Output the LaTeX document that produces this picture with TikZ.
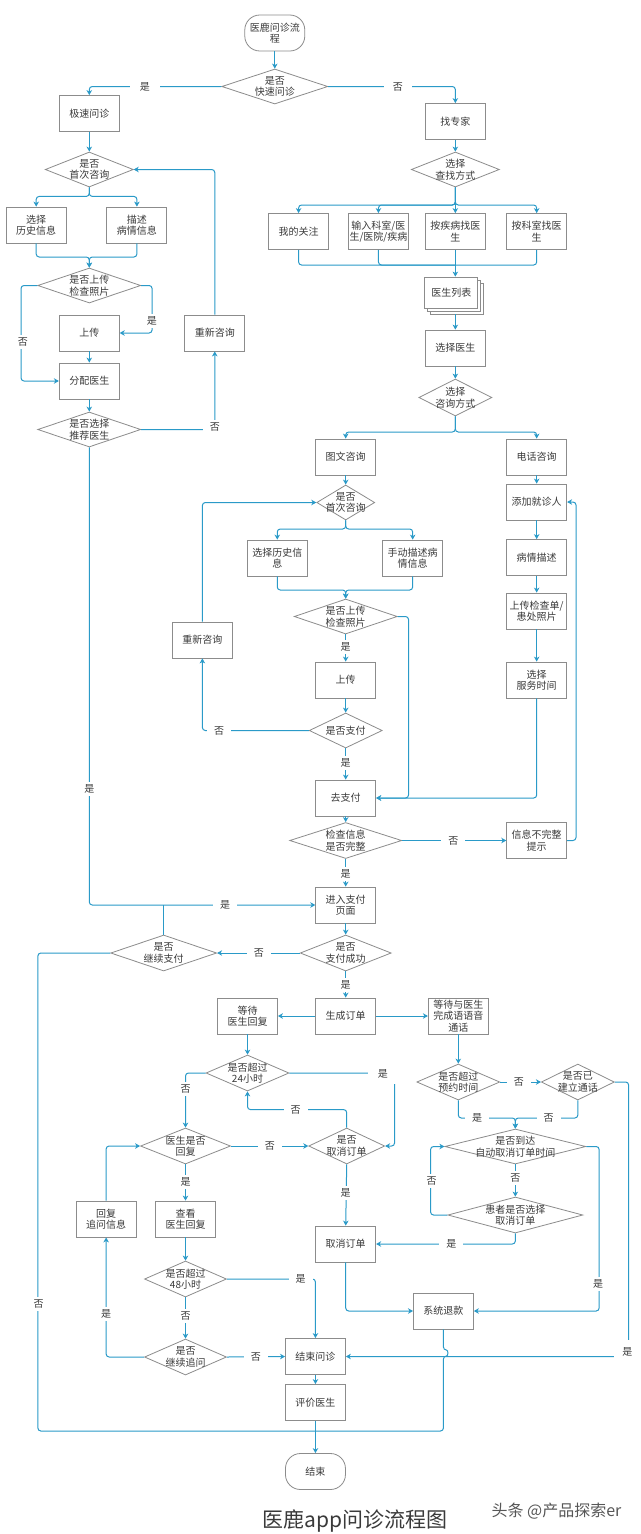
\documentclass[tikz,border=0pt]{standalone}
\usepackage{fontspec}
\setmainfont{Noto Sans CJK SC}
\usetikzlibrary{shapes.geometric,arrows.meta,calc}
\definecolor{ln}{HTML}{2A9AC8}
\definecolor{bd}{HTML}{8C8C8C}
\definecolor{tx}{HTML}{3A3A3A}
\newcommand\nfs{\fontsize{10}{11.5}\selectfont}
\newcommand\dianode[6]{%
  \node[dia, minimum width=#4pt, minimum height=#5pt] (#1) at (#2,#3) {};
  \node[dtx] (#1t) at (#1.center) {#6};}
\tikzset{
  box/.style={draw=bd, line width=0.8pt, fill=white, minimum width=60pt, minimum height=36pt,
    inner sep=1pt, align=center, text=tx, font=\nfs},
  term/.style={box, rounded corners=15pt},
  dia/.style={diamond, draw=bd, line width=0.8pt, fill=white, inner sep=0pt},
  dtx/.style={align=center, text=tx, font=\nfs, inner sep=0pt},
  conn/.style={draw=ln, line width=1pt, rounded corners=3pt, -{Stealth[length=5pt,width=5.5pt,inset=1.5pt]}},
  cl/.style={draw=ln, line width=1pt, rounded corners=3pt},
  lbl/.style={fill=white, inner xsep=7pt, inner ysep=3pt, text=tx, font=\nfs},
}
\begin{document}
\begin{tikzpicture}[x=0.992pt, y=-1pt]
\fill[white] (0pt,0pt) rectangle (640pt,-1534pt);
\useasboundingbox (0pt,0pt) rectangle (640pt,-1534pt);

% ---------- nodes ----------
\node[term] (start) at (277,33) {医鹿问诊流\\程};
\dianode{q1}{277}{86.5}{106}{35}{是否\\快速问诊}
\node[box] (jisu) at (90,113.5) {极速问诊};
\node[box] (zhuanjia) at (459,121.5) {找专家};
\dianode{lfirst}{90}{169.5}{88}{35}{是否\\首次咨询}
\dianode{findway}{459}{169.5}{88}{35}{选择\\查找方式}
\node[box] (lhist) at (36.5,225) {选择\\历史信息};
\node[box] (ldesc) at (138,225) {描述\\病情信息};
\node[box] (guanzhu) at (301,231.5) {我的关注};
\node[box] (shuru) at (381.5,231.5) {输入科室/医\\生/医院/疾病};
\node[box] (jibing) at (459,231.5) {按疾病找医\\生};
\node[box] (keshi) at (541,231.5) {按科室找医\\生};
\dianode{lupq}{90}{285.5}{103}{35}{是否上传\\检查照片}
\node[box, minimum width=53pt, minimum height=31pt] (list2) at (461,298.5) {};
\node[box, minimum width=53pt, minimum height=31pt] (list1) at (458,295.5) {};
\node[box, minimum width=53pt, minimum height=31pt] (list) at (455,292.5) {医生列表};
\node[box] (lup) at (90,333) {上传};
\node[box] (lre) at (216.5,333) {重新咨询};
\node[box] (fenpei) at (90,381) {分配医生};
\dianode{lrec}{90}{429.5}{103}{35}{是否选择\\推荐医生}
\node[box] (xuanze) at (459,348) {选择医生};
\dianode{zxway}{459}{397.5}{73}{37}{选择\\咨询方式}
\node[box] (tuwen) at (348.5,457) {图文咨询};
\node[box] (dianhua) at (541,457) {电话咨询};
\dianode{mfirst}{348.5}{502.5}{58}{35}{是否\\首次咨询}
\node[box] (tianjia) at (541,502) {添加就诊人};
\node[box] (mhist) at (279.5,558) {选择历史信\\息};
\node[box] (mdesc) at (416,558) {手动描述病\\情信息};
\node[box] (bingqing) at (541,557.5) {病情描述};
\dianode{mupq}{348.5}{616.5}{103}{35}{是否上传\\检查照片}
\node[box] (jiancha) at (541,611) {上传检查单/\\患处照片};
\node[box] (mre) at (204,640) {重新咨询};
\node[box] (mup) at (348.5,680) {上传};
\node[box] (fuwu) at (541,680) {选择\\服务时间};
\dianode{zhifu}{348.5}{730.5}{73}{35}{是否支付}
\node[box] (qupay) at (348.5,798) {去支付};
\dianode{check}{348.5}{840.5}{112}{36}{检查信息\\是否完整}
\node[box] (buwan) at (541,840.5) {信息不完整\\提示};
\node[box] (paypage) at (348.5,905) {进入支付\\页面};
\dianode{cont}{165}{953}{106}{36}{是否\\继续支付}
\dianode{success}{348.5}{953}{91}{36}{是否\\支付成功}
\node[box] (wait) at (249.5,1016) {等待\\医生回复};
\node[box] (order) at (348.5,1016) {生成订单};
\node[box] (voice) at (462,1016) {等待与医生\\完成语语音\\通话};
\dianode{h24}{249.5}{1073}{83}{36}{是否超过\\24小时}
\dianode{reply}{187}{1146}{90}{36}{医生是否\\回复}
\dianode{cq}{349.5}{1146}{76}{36}{是否\\取消订单}
\node[box] (ask) at (107,1219) {回复\\追问信息};
\node[box] (view) at (187,1219) {查看\\医生回复};
\node[box] (cancel) at (348.5,1244) {取消订单};
\dianode{h48}{187}{1279}{82}{36}{是否超过\\48小时}
\dianode{goon}{187}{1357}{82}{36}{是否\\继续追问}
\node[box] (endq) at (318,1356.5) {结束问诊};
\node[box] (rate) at (318,1402.5) {评价医生};
\node[term] (fin) at (318,1471.5) {结束};
\node[box] (refund) at (447,1311) {系统退款};
\dianode{overt}{462}{1082}{83}{36}{是否超过\\预约时间}
\dianode{built}{582.5}{1082}{73}{36}{是否已\\建立通话}
\dianode{auto}{519.5}{1146.5}{141}{35}{是否到达\\自动取消订单时间}
\dianode{pat}{519.5}{1215}{135}{36}{患者是否选择\\取消订单}

% ---------- coordinates ----------
\coordinate (lm) at (90,257);
\coordinate (fs) at (459,205);
\coordinate (fm) at (459,265);
\coordinate (zs) at (459,432);
\coordinate (ms) at (348.5,529);
\coordinate (mm) at (348.5,590);
\coordinate (bm) at (318,1431);
\coordinate (am) at (519.5,1118);
\coordinate (hopa) at (447,1350);
\coordinate (hopb) at (447,1356);
\coordinate (hopc1) at (452,1350);
\coordinate (hopc2) at (452,1356);

% ---------- connectors ----------
\draw[conn] (start.south) -- (q1.north);
\draw[conn] (q1.west) -| (jisu.north);
\draw[conn] (q1.east) -| (zhuanjia.north);
\draw[conn] (jisu.south) -- (lfirst.north);
\draw[conn] (lfirst.south) -- ++(0,9) -| (lhist.north);
\draw[conn] (lfirst.south) -- ++(0,9) -| (ldesc.north);
\draw[conn] (lhist.south) |- (lm) -- (lupq.north);
\draw[conn] (ldesc.south) |- (lm) -- (lupq.north);
\draw[conn] (lupq.east) -- ++(11,0) |- (lup.east);
\draw[conn] (lupq.west) -- ++(-16.5,0) |- (fenpei.west);
\draw[conn] (lup.south) -- (fenpei.north);
\draw[conn] (fenpei.south) -- (lrec.north);
\draw[conn] (lrec.east) -| (lre.south);
\draw[conn] (lre.north) |- (lfirst.east);
\draw[conn] (lrec.south) |- (paypage.west);
\draw[cl] (cont.north) -- (cont.north |- paypage.west);

\draw[conn] (zhuanjia.south) -- (findway.north);
\draw[conn] (findway.south) -- (fs) -| (guanzhu.north);
\draw[conn] (findway.south) -- (fs) -| (shuru.north);
\draw[conn] (findway.south) -- (jibing.north);
\draw[conn] (findway.south) -- (fs) -| (keshi.north);
\draw[cl] (guanzhu.south) |- (fm);
\draw[cl] (shuru.south) |- (fm);
\draw[cl] (keshi.south) |- (fm);
\draw[conn] (jibing.south) -- (list.north -| jibing.south);
\draw[conn] (list2.south -| jibing.south) -- (xuanze.north);
\draw[conn] (xuanze.south) -- (zxway.north);
\draw[conn] (zxway.south) -- (zs) -| (tuwen.north);
\draw[conn] (zxway.south) -- (zs) -| (dianhua.north);
\draw[conn] (tuwen.south) -- (mfirst.north);
\draw[conn] (mfirst.south) -- (ms) -| (mhist.north);
\draw[conn] (mfirst.south) -- (ms) -| (mdesc.north);
\draw[conn] (mhist.south) |- (mm) -- (mupq.north);
\draw[conn] (mdesc.south) |- (mm) -- (mupq.north);
\draw[conn] (mupq.south) -- (mup.north);
\draw[conn] (mupq.east) -- ++(11,0) |- (qupay.east);
\draw[conn] (mup.south) -- (zhifu.north);
\draw[conn] (zhifu.west) -| (mre.south);
\draw[conn] (mre.north) |- (mfirst.west);
\draw[conn] (zhifu.south) -- (qupay.north);
\draw[conn] (dianhua.south) -- (tianjia.north);
\draw[conn] (tianjia.south) -- (bingqing.north);
\draw[conn] (bingqing.south) -- (jiancha.north);
\draw[conn] (jiancha.south) -- (fuwu.north);
\draw[conn] (fuwu.south) |- (qupay.east);
\draw[conn] (qupay.south) -- (check.north);
\draw[conn] (check.east) -- (buwan.west);
\draw[conn] (buwan.east) -- ++(9,0) |- (tianjia.east);
\draw[conn] (check.south) -- (paypage.north);
\draw[conn] (paypage.south) -- (success.north);
\draw[conn] (success.west) -- (cont.east);
\draw[cl] (cont.west) -- ++(-73,0) |- (bm);
\draw[conn] (success.south) -- (order.north);
\draw[conn] (order.west) -- (wait.east);
\draw[conn] (order.east) -- (voice.west);
\draw[conn] (wait.south) -- (h24.north);
\draw[conn] (h24.east) -- ++(106,0) |- (cq.east);
\draw[conn] (h24.west) -| (reply.north);
\draw[conn] (cq.north) -- ++(0,-18) -| (h24.south);
\draw[conn] (reply.east) -- (cq.west);
\draw[conn] (reply.south) -- (view.north);
\draw[conn] (view.south) -- (h48.north);
\draw[conn] (h48.east) -| (endq.north);
\draw[conn] (h48.south) -- (goon.north);
\draw[conn] (goon.west) -| (ask.south);
\draw[conn] (ask.north) |- (reply.west);
\draw[conn] (goon.east) -- (endq.west);
\draw[conn] (cq.south) -- (cancel.north);
\draw[conn] (cancel.south) |- (refund.west);
\draw[conn] (endq.south) -- (rate.north);
\draw[conn] (rate.south) -- (fin.north);
\draw[cl] (refund.south) -- (hopa) .. controls (hopc1) and (hopc2) .. (hopb) -- (refund.south |- bm) -- (bm);
\draw[conn] (voice.south) -- (overt.north);
\draw[conn] (overt.east) -- (built.west);
\draw[conn] (built.east) -- ++(14,0) |- (endq.east);
\draw[conn] (overt.south) |- (am) -- (auto.north);
\draw[conn] (built.south) |- (am) -- (auto.north);
\draw[conn] (auto.south) -- (pat.north);
\draw[conn] (pat.west) -- ++(-17,0) |- (auto.west);
\draw[conn] (pat.south) |- (cancel.east);
\draw[conn] (auto.east) -- ++(13,0) |- (refund.east);

% ---------- labels ----------
\node[lbl, inner xsep=10pt] (a1) at (146,86.5) {是};
\node[lbl, inner xsep=9pt] (a2) at (401,86.5) {否};
\node[lbl] (a3) at (153,321) {是};
\node[lbl] (a4) at (23,342) {否};
\node[lbl] (a5) at (216.5,427) {否};
\node[lbl] (a6) at (90,789) {是};
\node[lbl] (a7) at (227,905) {是};
\node[lbl] (a8) at (348.5,647) {是};
\node[lbl] (a9) at (221,730.5) {否};
\node[lbl] (a10) at (348.5,763) {是};
\node[lbl] (a11) at (457,840.5) {否};
\node[lbl] (a12) at (348.5,874) {是};
\node[lbl] (a13) at (261,953) {否};
\node[lbl] (a14) at (348.5,985) {是};
\node[lbl] (a15) at (39,1304) {否};
\node[lbl, minimum width=30pt, minimum height=20pt, inner xsep=0pt] (a16) at (386,1074) {是};
\node[lbl] (a17) at (187,1089) {否};
\node[lbl] (a18) at (298,1110) {否};
\node[lbl] (a19) at (272,1146) {否};
\node[lbl] (a20) at (187,1182) {是};
\node[lbl] (a21) at (348.5,1193) {是};
\node[lbl] (a22) at (303,1279) {是};
\node[lbl] (a23) at (187,1316) {否};
\node[lbl] (a24) at (107,1314) {是};
\node[lbl] (a25) at (258,1357) {否};
\node[lbl] (a26) at (523,1082) {否};
\node[lbl] (a27) at (481,1118) {是};
\node[lbl] (a28) at (553,1118) {否};
\node[lbl] (a29) at (519.5,1178) {否};
\node[lbl] (a30) at (435,1181) {否};
\node[lbl] (a31) at (455,1244) {是};
\node[lbl] (a32) at (603,1284) {是};
\node[lbl, minimum width=26pt, minimum height=24pt, inner xsep=0pt] (a33) at (632.5,1352) {是};

% ---------- title ----------
\node[text=tx, font=\fontsize{21}{24}\selectfont, inner sep=0pt] (title) at (358,1521) {医鹿app问诊流程图};
\node[text=tx!85, font=\fontsize{16}{18}\selectfont, inner sep=0pt] (mark) at (561,1511) {头条 @产品探索er};
\end{tikzpicture}
\end{document}
